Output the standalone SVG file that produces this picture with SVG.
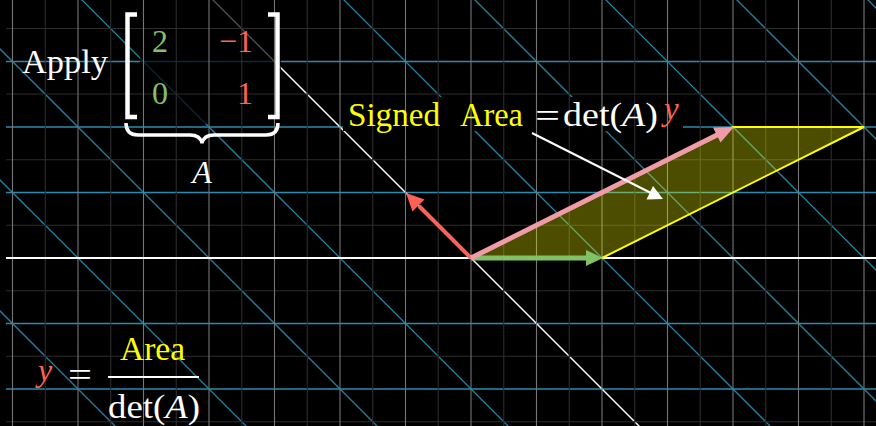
<svg xmlns="http://www.w3.org/2000/svg" width="876" height="426" viewBox="0 0 876 426">
<style>
.bl{stroke:#2a8db0;stroke-width:1.7;fill:none}
.bd{stroke:#23809f;stroke-width:1.3;fill:none}
.gM{stroke:#767676;stroke-width:1.1}
.gm{stroke:#2c2c2c;stroke-width:1.1}
.t{font-family:"Liberation Serif","Times New Roman",serif}
.w{fill:#ffffff}
.yl{fill:#ffff00}
.gr{fill:#83c167}
.rd{fill:#fc6255}
.it{font-style:italic}
</style>
<rect x="0" y="0" width="876" height="426" fill="#000000"/>
<g id="transformed-grid">
  <line class="bl" x1="6" y1="61.5" x2="876" y2="61.5"/>
  <line class="bl" x1="6" y1="127" x2="876" y2="127"/>
  <line class="bl" x1="6" y1="192.5" x2="876" y2="192.5"/>
  <line class="bl" x1="6" y1="323.5" x2="876" y2="323.5"/>
  <line class="bl" x1="6" y1="389" x2="876" y2="389"/>
  <line class="bd" x1="-321" y1="-10" x2="125" y2="436"/>
  <line class="bd" x1="-190" y1="-10" x2="256" y2="436"/>
  <line class="bd" x1="-59" y1="-10" x2="387" y2="436"/>
  <line class="bd" x1="72" y1="-10" x2="518" y2="436"/>
  <line class="bd" x1="334" y1="-10" x2="780" y2="436"/>
  <line class="bd" x1="465" y1="-10" x2="911" y2="436"/>
  <line class="bd" x1="596" y1="-10" x2="1042" y2="436"/>
  <line class="bd" x1="727" y1="-10" x2="1173" y2="436"/>
  <line class="bd" x1="858" y1="-10" x2="1304" y2="436"/>
  <line x1="203" y1="-10" x2="649" y2="436" stroke="#ffffff" stroke-width="1.4"/>
</g>
<g id="label-backgrounds">
  <rect x="140" y="0" width="141" height="124" fill="#000000" fill-opacity="0.7"/>
  <rect x="343" y="97" width="340" height="34" fill="#000000"/>
</g>
<g id="background-grid">
  <line class="gm" x1="45.25" y1="0" x2="45.25" y2="426"/>
  <line class="gm" x1="110.75" y1="0" x2="110.75" y2="426"/>
  <line class="gm" x1="176.25" y1="0" x2="176.25" y2="426"/>
  <line class="gm" x1="241.75" y1="0" x2="241.75" y2="426"/>
  <line class="gm" x1="307.25" y1="0" x2="307.25" y2="426"/>
  <line class="gm" x1="372.75" y1="0" x2="372.75" y2="426"/>
  <line class="gm" x1="438.25" y1="0" x2="438.25" y2="426"/>
  <line class="gm" x1="503.75" y1="0" x2="503.75" y2="426"/>
  <line class="gm" x1="569.25" y1="0" x2="569.25" y2="426"/>
  <line class="gm" x1="634.75" y1="0" x2="634.75" y2="426"/>
  <line class="gm" x1="700.25" y1="0" x2="700.25" y2="426"/>
  <line class="gm" x1="765.75" y1="0" x2="765.75" y2="426"/>
  <line class="gm" x1="831.25" y1="0" x2="831.25" y2="426"/>
  <line class="gm" x1="6" y1="28.5" x2="876" y2="28.5"/>
  <line class="gm" x1="6" y1="94" x2="876" y2="94"/>
  <line class="gm" x1="6" y1="159.75" x2="876" y2="159.75"/>
  <line class="gm" x1="6" y1="225.25" x2="876" y2="225.25"/>
  <line class="gm" x1="6" y1="290.75" x2="876" y2="290.75"/>
  <line class="gm" x1="6" y1="356.25" x2="876" y2="356.25"/>
  <line class="gm" x1="6" y1="421.75" x2="876" y2="421.75"/>
  <line class="gM" x1="12.5" y1="0" x2="12.5" y2="426"/>
  <line class="gM" x1="78" y1="0" x2="78" y2="426"/>
  <line class="gM" x1="143.5" y1="0" x2="143.5" y2="426"/>
  <line class="gM" x1="209" y1="0" x2="209" y2="426"/>
  <line class="gM" x1="274.5" y1="0" x2="274.5" y2="426"/>
  <line class="gM" x1="340" y1="0" x2="340" y2="426"/>
  <line class="gM" x1="405.5" y1="0" x2="405.5" y2="426"/>
  <line class="gM" x1="471" y1="0" x2="471" y2="426"/>
  <line class="gM" x1="536.5" y1="0" x2="536.5" y2="426"/>
  <line class="gM" x1="602" y1="0" x2="602" y2="426"/>
  <line class="gM" x1="667.5" y1="0" x2="667.5" y2="426"/>
  <line class="gM" x1="733" y1="0" x2="733" y2="426"/>
  <line class="gM" x1="798.5" y1="0" x2="798.5" y2="426"/>
  <line class="gM" x1="864" y1="0" x2="864" y2="426"/>
  <line x1="6" y1="258" x2="876" y2="258" stroke="#ffffff" stroke-width="1.8"/>
</g>
<g id="parallelogram">
  <polygon points="471,258 602,258 864,127 733,127" fill="#ffff00" fill-opacity="0.3" stroke="#ffff00" stroke-width="2"/>
</g>
<g id="vectors">
  <g id="vec-green">
    <line x1="471" y1="258" x2="588" y2="258" stroke="#83c167" stroke-width="5"/>
    <polygon points="603,258 586,250 586,266" fill="#83c167"/>
  </g>
  <g id="vec-red">
    <line x1="471" y1="258" x2="419" y2="206" stroke="#fc6255" stroke-width="4"/>
    <polygon points="406,193 424.5,199.5 412.5,211.5" fill="#fc6255"/>
  </g>
  <g id="vec-pink">
    <line x1="471" y1="258" x2="719" y2="134" stroke="#f09ca8" stroke-width="5"/>
    <polygon points="734,127 720.5,142.5 713,127.5" fill="#f09ca8"/>
  </g>
</g>
<g id="pointer">
  <line x1="532" y1="133" x2="651" y2="193" stroke="#ffffff" stroke-width="2"/>
  <polygon points="663,199 646.5,199.5 653,186" fill="#ffffff"/>
</g>
<g id="apply-matrix">
  <text class="t w" x="22" y="73" font-size="34" textLength="86" lengthAdjust="spacingAndGlyphs">Apply</text>
  <path d="M137,14.5 H127.5 V117 H137" fill="none" stroke="#ffffff" stroke-width="4.5"/>
  <path d="M268,14.5 H277.5 V117 H268" fill="none" stroke="#ffffff" stroke-width="4.5"/>
  <text class="t gr" x="160" y="52" font-size="32" text-anchor="middle">2</text>
  <text class="t gr" x="160" y="104" font-size="32" text-anchor="middle">0</text>
  <text class="t rd" x="253" y="52" font-size="32" text-anchor="end">−1</text>
  <text class="t rd" x="253" y="104" font-size="32" text-anchor="end">1</text>
  <path d="M126,123 Q126,135 138,135 H190 Q200,135 202,143 Q204,135 214,135 H266 Q278,135 278,123" fill="none" stroke="#ffffff" stroke-width="3.5"/>
  <text class="t w it" x="202" y="183" font-size="32" text-anchor="middle">A</text>
</g>
<g id="signed-area-label">
  <text class="t yl" x="348" y="126" font-size="33" textLength="92" lengthAdjust="spacingAndGlyphs">Signed</text>
  <text class="t yl" x="460" y="126" font-size="33" textLength="63" lengthAdjust="spacingAndGlyphs">Area</text>
  <text class="t w" x="535" y="127" font-size="33" textLength="25" lengthAdjust="spacingAndGlyphs">=</text>
  <text class="t w" x="563" y="126" font-size="34" textLength="95" lengthAdjust="spacingAndGlyphs">det(<tspan class="it">A</tspan>)</text>
  <text class="t rd it" x="664" y="120" font-size="33">y</text>
</g>
<g id="formula">
  <text class="t rd it" x="38" y="381" font-size="32">y</text>
  <text class="t w" x="68" y="386" font-size="34" textLength="24" lengthAdjust="spacingAndGlyphs">=</text>
  <line x1="108" y1="377" x2="199" y2="377" stroke="#ffffff" stroke-width="2"/>
  <text class="t yl" x="120" y="360" font-size="33" textLength="65" lengthAdjust="spacingAndGlyphs">Area</text>
  <text class="t w" x="108" y="418" font-size="33" textLength="92" lengthAdjust="spacingAndGlyphs">det(<tspan class="it">A</tspan>)</text>
</g>
</svg>
